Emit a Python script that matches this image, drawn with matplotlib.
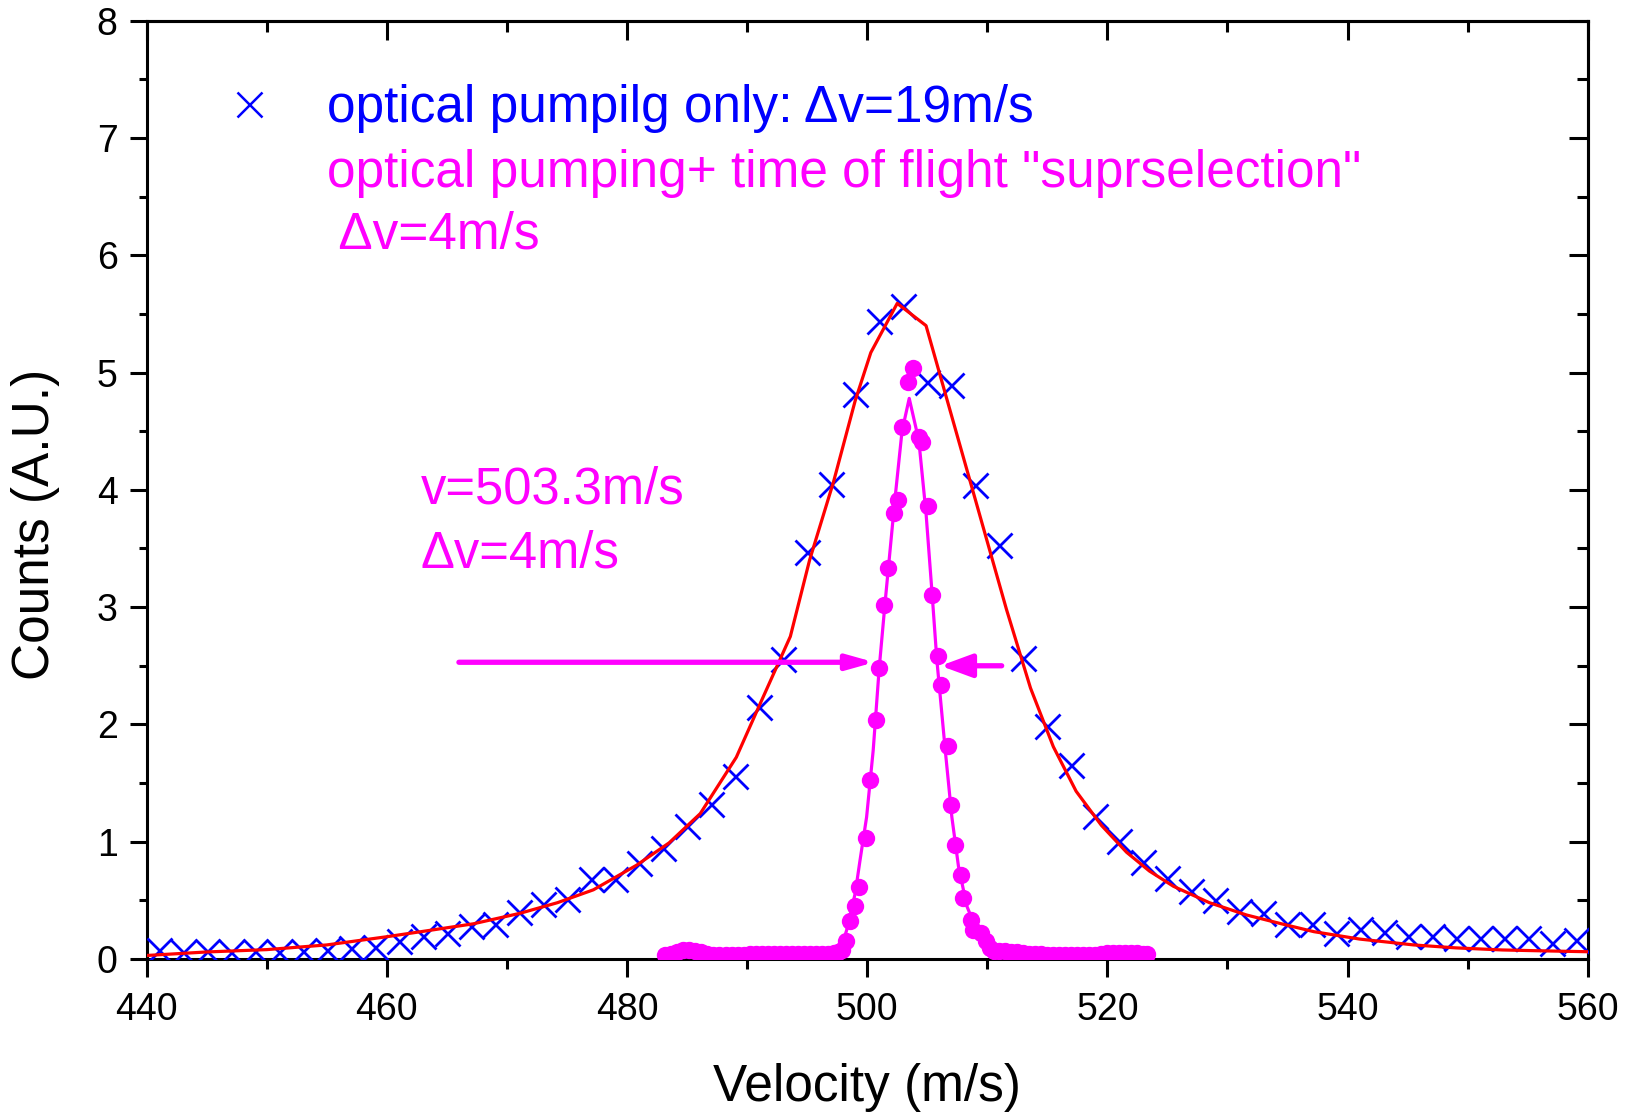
import matplotlib
matplotlib.use('Agg')
import matplotlib.pyplot as plt
from matplotlib.ticker import MultipleLocator

plt.rcParams['font.family'] = ['Liberation Sans', 'DejaVu Sans']

# ---------------- data ----------------
blue_v = [441, 443, 445, 447, 449, 451, 453, 455, 457, 459,
          461, 463, 465, 467, 469, 471, 473, 475, 477, 479,
          481, 483, 485, 487, 489, 491, 493, 495, 497, 499,
          501, 503, 505, 507, 509, 511, 513, 515, 517, 519,
          521, 523, 525, 527, 529, 531, 533, 535, 537, 539,
          541, 543, 545, 547, 549, 551, 553, 555, 557, 559]
blue_y = [0.08, 0.06, 0.07, 0.06, 0.07, 0.06, 0.07, 0.08, 0.09, 0.10,
          0.15, 0.20, 0.22, 0.28, 0.30, 0.40, 0.47, 0.51, 0.68, 0.68,
          0.82, 0.95, 1.13, 1.32, 1.56, 2.15, 2.56, 3.47, 4.05, 4.82,
          5.44, 5.57, 4.92, 4.89, 4.04, 3.53, 2.57, 1.99, 1.65, 1.22,
          1.01, 0.83, 0.69, 0.58, 0.50, 0.41, 0.39, 0.30, 0.30, 0.22,
          0.26, 0.23, 0.20, 0.20, 0.18, 0.18, 0.18, 0.18, 0.14, 0.16]

red_v = [440, 445, 450, 455, 460, 463.3, 467.2, 471.1, 474.2, 477.2,
         480.8, 483.5, 486.1, 489.1, 491.1, 493.6, 495.2, 497.2, 499.0, 500.3,
         502.5, 504.9, 511.6, 513.6, 515.5, 517.4, 519.5, 521.6, 523.5, 525.5,
         528.5, 531.6, 534.5, 537.2, 541, 545.5, 549, 552.9, 556, 560]
red_y = [0.03, 0.06, 0.08, 0.12, 0.19, 0.24, 0.30, 0.39, 0.48, 0.59,
         0.80, 0.99, 1.24, 1.72, 2.18, 2.75, 3.40, 4.07, 4.76, 5.17,
         5.59, 5.40, 2.98, 2.31, 1.81, 1.43, 1.14, 0.91, 0.75, 0.62,
         0.48, 0.375, 0.30, 0.233, 0.17, 0.12, 0.095, 0.077, 0.07, 0.062]

mag_v = [483.2, 483.7, 484.2, 484.7, 485.2, 485.7, 486.2, 486.7, 487.2, 487.7,
         488.2, 488.7, 489.2, 489.7, 490.2, 490.7, 491.2, 491.7, 492.2, 492.7,
         493.2, 493.7, 494.2, 494.7, 495.2, 495.7, 496.2, 496.7, 497.2, 497.6,
         497.9, 498.2, 498.6, 499.0, 499.35, 499.9, 500.2, 500.7, 500.95, 501.4,
         501.75, 502.2, 502.6, 502.9, 503.4, 503.85, 504.3, 504.6, 505.1, 505.4,
         505.9, 506.15, 506.7, 507.0, 507.35, 507.8, 508.0, 508.65, 508.8, 509.5,
         509.9, 510.2, 510.6, 511.0, 511.5, 512.0, 512.5, 513.0, 513.5, 514.0,
         514.5, 515.0, 515.5, 516.0, 516.5, 517.0, 517.5, 518.0, 518.5, 519.0,
         519.5, 520.0, 520.5, 521.0, 521.5, 522.0, 522.5, 523.0, 523.3]
mag_y = [0.03, 0.04, 0.06, 0.08, 0.08, 0.07, 0.06, 0.04, 0.03, 0.03,
         0.03, 0.03, 0.03, 0.03, 0.04, 0.04, 0.04, 0.04, 0.04, 0.04,
         0.04, 0.04, 0.04, 0.04, 0.04, 0.04, 0.04, 0.04, 0.05, 0.06,
         0.08, 0.15, 0.32, 0.45, 0.61, 1.03, 1.53, 2.04, 2.48, 3.02,
         3.33, 3.80, 3.91, 4.54, 4.92, 5.04, 4.45, 4.41, 3.86, 3.10,
         2.58, 2.34, 1.82, 1.31, 0.97, 0.72, 0.52, 0.33, 0.25, 0.22,
         0.15, 0.09, 0.07, 0.07, 0.07, 0.06, 0.06, 0.05, 0.04, 0.04,
         0.04, 0.03, 0.03, 0.03, 0.03, 0.03, 0.03, 0.03, 0.03, 0.03,
         0.04, 0.05, 0.05, 0.05, 0.05, 0.05, 0.05, 0.04, 0.04]

magfit_v = [497.5, 497.8, 498.3, 499.0, 499.4, 499.95, 500.5, 501.0, 501.5, 502.3,
            502.9, 503.5, 504.3, 504.9, 505.4, 505.8, 506.5, 507.05, 507.6, 508.3,
            509.1, 510.2, 511.0, 511.5]
magfit_y = [0.03, 0.08, 0.25, 0.56, 0.84, 1.21, 1.78, 2.48, 3.05, 3.91,
            4.50, 4.78, 4.42, 3.80, 3.12, 2.55, 1.78, 1.21, 0.79, 0.45,
            0.25, 0.105, 0.05, 0.03]

# arrow end points (data units)
arrow1_from, arrow1_to = (466.0, 2.53), (500.6, 2.53)
arrow2_from, arrow2_to = (511.2, 2.50), (506.1, 2.50)

BLUE = '#0000FF'
RED = '#FF0000'
MAG = '#FF00FF'

# ---------------- figure ----------------
W, H = 1628, 1115
fig = plt.figure(figsize=(W / 100, H / 100), dpi=100)
L, R, T, B = 146.7, 1587.7, 20.7, 959.0
ax = fig.add_axes([L / W, 1 - B / H, (R - L) / W, (B - T) / H])

ax.plot(blue_v, blue_y, linestyle='none', marker='x', color=BLUE,
        markersize=18, markeredgewidth=2.0, zorder=3)
ax.plot(red_v, red_y, color=RED, linewidth=2.3, zorder=4)
ax.plot(magfit_v, magfit_y, color=MAG, linewidth=2.3, zorder=5)
ax.plot(mag_v, mag_y, linestyle='none', marker='o', color=MAG,
        markersize=12.5, markeredgewidth=0, zorder=6)

ax.annotate('', xy=arrow1_to, xytext=arrow1_from,
            arrowprops=dict(arrowstyle='-|>,head_length=1.6,head_width=0.45',
                            lw=3.8, color=MAG, shrinkA=0, shrinkB=0), zorder=7)
ax.annotate('', xy=arrow2_to, xytext=arrow2_from,
            arrowprops=dict(arrowstyle='-|>,head_length=1.9,head_width=0.7',
                            lw=3.8, color=MAG, shrinkA=0, shrinkB=0), zorder=7)

# legend-like annotation
ax.plot([448.5], [7.29], linestyle='none', marker='x', color=BLUE,
        markersize=18, markeredgewidth=1.8)
ax.text(455.0, 7.25, 'optical pumpilg only: \u0394v=19m/s', color=BLUE,
        fontsize=37, va='center', ha='left')
ax.text(455.0, 6.70, 'optical pumping+ time of flight "suprselection"', color=MAG,
        fontsize=37, va='center', ha='left')
ax.text(455.0, 6.17, ' \u0394v=4m/s', color=MAG, fontsize=37, va='center', ha='left')

ax.text(462.8, 4.00, 'v=503.3m/s', color=MAG, fontsize=36.5, va='center', ha='left')
ax.text(462.8, 3.45, '\u0394v=4m/s', color=MAG, fontsize=36.5, va='center', ha='left')

# ---------------- axes ----------------
ax.set_xlim(440, 560)
ax.set_ylim(0, 8)
ax.xaxis.set_major_locator(MultipleLocator(20))
ax.xaxis.set_minor_locator(MultipleLocator(10))
ax.yaxis.set_major_locator(MultipleLocator(1))
ax.yaxis.set_minor_locator(MultipleLocator(0.5))

for sp in ax.spines.values():
    sp.set_linewidth(2.2)

ax.tick_params(axis='x', which='major', direction='out', length=13, width=2.2,
               labelsize=27, pad=11)
ax.tick_params(axis='x', which='minor', direction='out', length=7, width=2.2)
ax.tick_params(axis='y', which='major', direction='out', length=12, width=2.2,
               labelsize=27, pad=9)
ax.tick_params(axis='y', which='minor', direction='out', length=6, width=2.2)

top = ax.secondary_xaxis('top')
top.xaxis.set_major_locator(MultipleLocator(20))
top.xaxis.set_minor_locator(MultipleLocator(10))
top.tick_params(which='major', direction='in', length=14, width=2.2, labeltop=False)
top.tick_params(which='minor', direction='in', length=8, width=2.2)
top.spines['top'].set_linewidth(2.2)

right = ax.secondary_yaxis('right')
right.yaxis.set_major_locator(MultipleLocator(1))
right.yaxis.set_minor_locator(MultipleLocator(0.5))
right.tick_params(which='major', direction='in', length=14, width=2.2, labelright=False)
right.tick_params(which='minor', direction='in', length=8, width=2.2)
right.spines['right'].set_linewidth(2.2)

fig.text(867 / W, 1 - 1088 / H, 'Velocity (m/s)', fontsize=37, ha='center', va='center')
fig.text(36 / W, 1 - 524 / H, 'Counts (A.U.)', fontsize=37, ha='center', va='center',
         rotation=90)

fig.savefig('out.png', dpi=100)
